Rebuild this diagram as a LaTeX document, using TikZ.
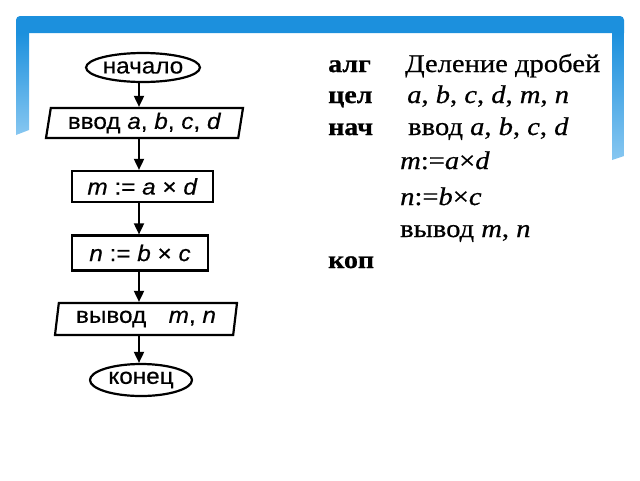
\documentclass[tikz,border=0pt]{standalone}
\usepackage{fontspec}
\setmainfont{Liberation Serif}
\newfontfamily\fcsans[FakeStretch=1.08,FakeBold=0.4]{Liberation Sans}
\newfontfamily\rser[FakeStretch=1.12,FakeBold=0.6]{Liberation Serif}
\newfontfamily\rserb[FakeStretch=1.12,FakeBold=0.8,UprightFont=* Bold]{Liberation Serif}
\usetikzlibrary{shapes.geometric,arrows.meta}
\definecolor{frameblue}{RGB}{28,144,221}
\definecolor{framelight}{RGB}{135,199,241}
\tikzset{
  box/.style={draw=black, line width=2.2pt, inner sep=0pt, font=\fcsans\fontsize{22.5}{26}\selectfont},
  term/.style={box, ellipse},
  io/.style={box, trapezium, trapezium left angle=77, trapezium right angle=103, trapezium stretches body},
  proc/.style={box, rectangle},
  arr/.style={line width=1.8pt, -{Triangle[length=11pt,width=10pt]}},
  kw/.style={anchor=base west, inner sep=0pt, font=\rserb\fontsize{25}{30}\selectfont},
  rt/.style={anchor=base west, inner sep=0pt, font=\rser\fontsize{25.5}{30}\selectfont}
}
\begin{document}
\begin{tikzpicture}[x=1pt,y=-1pt]
\useasboundingbox (0,0) rectangle (640,480);
\fill[white] (0,0) rectangle (640,480);
% slide frame
\fill[frameblue] (16,33) {[rounded corners=4pt] -- (16,16) -- (624,16)} -- (624,33) -- cycle;
\shade[top color=frameblue, bottom color=framelight] (16,33) -- (29,33) -- (29,130) -- (16,135) -- cycle;
\shade[top color=frameblue, bottom color=framelight] (612,33) -- (624,33) -- (624,156) -- (612,160) -- cycle;
% flowchart
\coordinate (col) at (139,0);
\node[term, minimum width=112pt, minimum height=29pt] (start) at (143,67.5) {начало};
\node[io, minimum width=197pt, minimum height=30pt] (in1) at (144.5,123) {ввод \textit{a}, \textit{b}, \textit{c}, \textit{d}};
\node[proc, minimum width=141pt, minimum height=31pt] (p1) at (142.5,186.5) {\textit{m} := \textit{a} × \textit{d}};
\node[proc, minimum width=136pt, minimum height=35pt] (p2) at (140,253) {\textit{n} := \textit{b} × \textit{c}};
\node[io, minimum width=182pt, minimum height=32pt] (out1) at (146,319) {вывод\quad \textit{m}, \textit{n}};
\node[term, minimum width=102pt, minimum height=32pt] (stop) at (141,380) {конец};
\draw[arr] (start.south -| col) -- (in1.north -| col);
\draw[arr] (in1.south -| col) -- (p1.north -| col);
\draw[arr] (p1.south -| col) -- (p2.north -| col);
\draw[arr] (p2.south -| col) -- (out1.north -| col);
\draw[arr] (out1.south -| col) -- (stop.north -| col);
% algorithm text
\node[kw] (alg) at (328,72) {алг};
\node[rt] (title) at (405,72) {Деление дробей};
\node[kw] (cel) at (328,103) {цел};
\node[rt] (vars) at (407,103) {\textit{a}, \textit{b}, \textit{c}, \textit{d}, \textit{m}, \textit{n}};
\node[kw] (nach) at (328,135) {нач};
\node[rt] (inp) at (408,135) {ввод \textit{a}, \textit{b}, \textit{c}, \textit{d}};
\node[rt] (s1) at (400,169) {\textit{m}:=\textit{a}×\textit{d}};
\node[rt] (s2) at (400,205) {\textit{n}:=\textit{b}×\textit{c}};
\node[rt] (out) at (400,237) {вывод \textit{m}, \textit{n}};
\node[kw] (kon) at (328,268) {коп};
\end{tikzpicture}
\end{document}
